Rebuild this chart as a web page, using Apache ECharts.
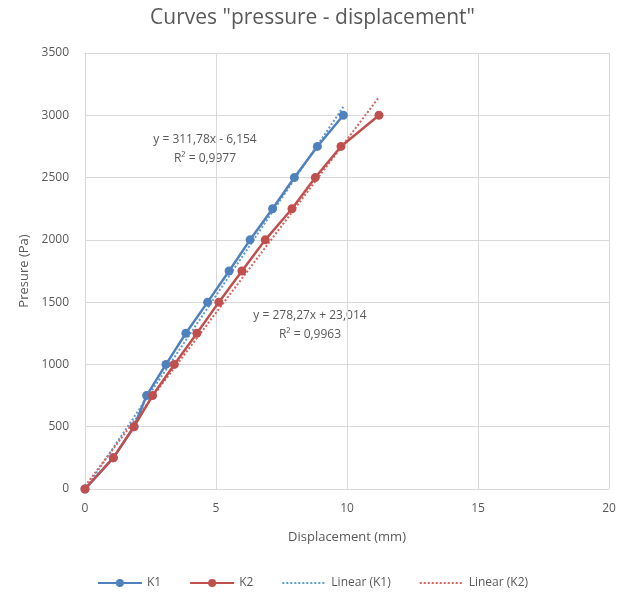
<!DOCTYPE html>
<html>
<head>
<meta charset="utf-8">
<script src="https://cdn.jsdelivr.net/npm/echarts@6/dist/echarts.min.js"></script>
<style>
  html, body { margin: 0; padding: 0; background: #fff; }
  #chart { width: 625px; height: 595px; }
</style>
</head>
<body>
<div id="chart"></div>
<script>
// data
const k1X = [0, 1.08, 1.87, 2.35, 3.09, 3.85, 4.68, 5.50, 6.30, 7.16, 7.99, 8.87, 9.86];
const k1Y = [0, 250, 500, 750, 1000, 1250, 1500, 1750, 2000, 2250, 2500, 2750, 3000];
const k2X = [0, 1.08, 1.87, 2.58, 3.41, 4.27, 5.11, 5.99, 6.88, 7.90, 8.79, 9.77, 11.22];
const k2Y = [0, 250, 500, 750, 1000, 1250, 1500, 1750, 2000, 2250, 2500, 2750, 3000];

// trendline coefficients (as printed on the chart)
const k1Slope = 311.78, k1Icpt = -6.154;
const k2Slope = 278.27, k2Icpt = 23.014;
const k1Label = ['y = 311,78x - 6,154', 'R² = 0,9977'];
const k2Label = ['y = 278,27x + 23,014', 'R² = 0,9963'];

const xTicks = [0, 5, 10, 15, 20];
const yTicks = [0, 500, 1000, 1500, 2000, 2500, 3000, 3500];

const blue = '#4F81BD', red = '#C0504D', txt = '#595959';
const font = 'Open Sans';

const pairs = (xs, ys) => xs.map((x, i) => [x, ys[i]]);
const trend = (xs, a, b) => [[0, b], [xs[xs.length - 1], a * xs[xs.length - 1] + b]];

let chart = echarts.init(document.getElementById('chart'));
chart.setOption({
  animation: false,
  textStyle: { fontFamily: font, color: txt },
  title: {
    text: 'Curves "pressure - displacement"',
    left: 'center', top: 3,
    textStyle: { fontFamily: font, fontSize: 21, fontWeight: 'normal', color: txt }
  },
  grid: { left: 85, right: 16, top: 53, bottom: 106 },
  legend: {
    bottom: 1, itemWidth: 44, itemHeight: 10, itemGap: 28,
    textStyle: { fontFamily: font, fontSize: 12, color: txt },
    data: [
      'K1', 'K2',
      { name: 'Linear (K1)', itemStyle: { opacity: 0 } },
      { name: 'Linear (K2)', itemStyle: { opacity: 0 } }
    ]
  },
  xAxis: {
    type: 'value', min: xTicks[0], max: xTicks[xTicks.length - 1], interval: 5,
    name: 'Displacement (mm)', nameLocation: 'middle', nameGap: 42,
    nameTextStyle: { fontSize: 13, color: txt },
    axisLine: { show: true, onZero: false, lineStyle: { color: '#d9d9d9' } },
    axisTick: { show: false },
    axisLabel: { fontSize: 12, color: txt, margin: 14 },
    splitLine: { show: true, lineStyle: { color: '#d9d9d9' } }
  },
  yAxis: {
    type: 'value', min: yTicks[0], max: yTicks[yTicks.length - 1], interval: 500,
    name: 'Presure (Pa)', nameLocation: 'middle', nameGap: 54,
    nameTextStyle: { fontSize: 13, color: txt },
    axisLine: { show: false },
    axisTick: { show: false },
    axisLabel: { fontSize: 12, color: txt, margin: 16, formatter: v => String(v) },
    splitLine: { show: true, lineStyle: { color: '#d9d9d9' } }
  },
  series: [
    {
      name: 'Linear (K1)', type: 'line', data: trend(k1X, k1Slope, k1Icpt),
      symbol: 'none', z: 1,
      lineStyle: { color: '#5B9BD5', width: 2, type: [2, 2] },
      itemStyle: { color: '#5B9BD5' }
    },
    {
      name: 'Linear (K2)', type: 'line', data: trend(k2X, k2Slope, k2Icpt),
      symbol: 'none', z: 1,
      lineStyle: { color: '#D9625E', width: 2, type: [2, 2] },
      itemStyle: { color: '#D9625E' }
    },
    {
      name: 'K1', type: 'line', data: pairs(k1X, k1Y), z: 3,
      symbol: 'circle', symbolSize: 9,
      lineStyle: { color: blue, width: 2.5 },
      itemStyle: { color: blue }
    },
    {
      name: 'K2', type: 'line', data: pairs(k2X, k2Y), z: 4,
      symbol: 'circle', symbolSize: 9,
      lineStyle: { color: red, width: 2.5 },
      itemStyle: { color: red }
    }
  ],
  graphic: [
    {
      type: 'text', x: 205, y: 130,
      style: { text: k1Label.join('\n'), textAlign: 'center', font: '12px ' + font, fill: txt, lineHeight: 19 }
    },
    {
      type: 'text', x: 310, y: 306,
      style: { text: k2Label.join('\n'), textAlign: 'center', font: '12px ' + font, fill: txt, lineHeight: 19 }
    }
  ]
});
</script>
</body>
</html>
